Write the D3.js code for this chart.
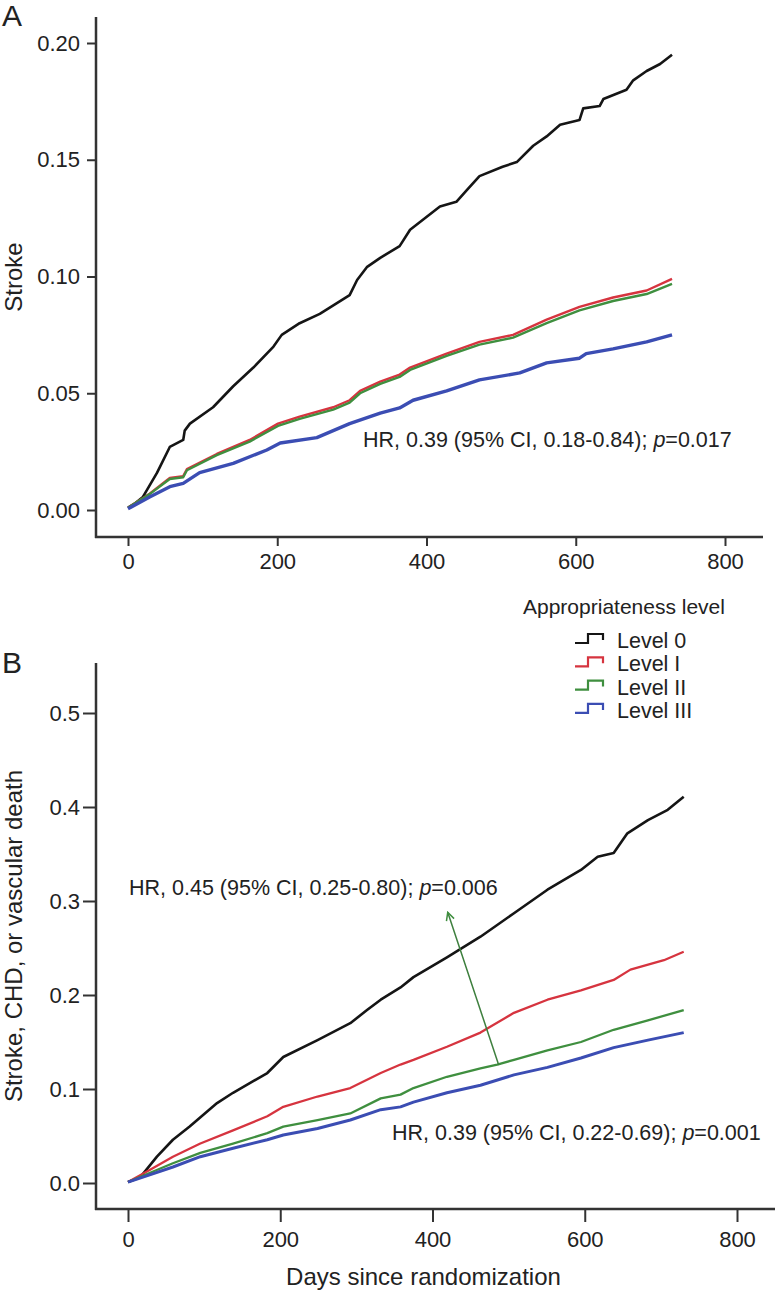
<!DOCTYPE html>
<html>
<head>
<meta charset="utf-8">
<script src="https://cdn.jsdelivr.net/npm/d3@7"></script>
<style>
  body { margin: 0; background: #fff; }
  svg text { font-family: "Liberation Sans", Arial, sans-serif; fill: #222; }
</style>
</head>
<body>
<script>
// panel A - stroke
const daysA0 = [0, 10, 20, 39, 56, 74, 76, 83, 114, 141, 168, 195, 206, 230, 257, 297, 307, 320, 338, 364, 378, 418, 440, 454, 471, 502, 521, 543, 561, 579, 605, 610, 632, 637, 668, 677, 695, 713, 729];
const strokeA0 = [0.001, 0.003, 0.0056, 0.016, 0.027, 0.030, 0.034, 0.037, 0.044, 0.053, 0.061, 0.070, 0.075, 0.080, 0.084, 0.092, 0.0985, 0.104, 0.108, 0.113, 0.120, 0.130, 0.132, 0.137, 0.143, 0.147, 0.149, 0.156, 0.160, 0.165, 0.167, 0.172, 0.173, 0.176, 0.180, 0.184, 0.188, 0.191, 0.195];
const daysA12 = [0, 29, 56, 74, 79, 119, 163, 201, 230, 275, 297, 311, 338, 364, 378, 427, 471, 516, 561, 605, 650, 695, 729];
const strokeA1 = [0.001, 0.007, 0.0137, 0.0145, 0.0175, 0.024, 0.030, 0.037, 0.040, 0.044, 0.047, 0.051, 0.055, 0.058, 0.061, 0.067, 0.072, 0.075, 0.0815, 0.087, 0.091, 0.094, 0.099];
const strokeA2 = [0.001, 0.0068, 0.0133, 0.014, 0.017, 0.0235, 0.0293, 0.036, 0.039, 0.043, 0.046, 0.050, 0.054, 0.057, 0.060, 0.066, 0.0708, 0.0738, 0.080, 0.0855, 0.0895, 0.0925, 0.0968];
const daysA3 = [0, 29, 56, 74, 96, 141, 186, 204, 253, 297, 338, 364, 382, 427, 471, 525, 561, 605, 614, 650, 695, 729];
const strokeA3 = [0.0005, 0.0056, 0.010, 0.0114, 0.016, 0.020, 0.0257, 0.0287, 0.031, 0.037, 0.0415, 0.0437, 0.047, 0.051, 0.0557, 0.0587, 0.063, 0.065, 0.067, 0.069, 0.072, 0.075];

// panel B - stroke, CHD, or vascular death
const daysB0 = [0, 16, 38, 59, 81, 117, 138, 183, 204, 249, 292, 314, 332, 358, 375, 419, 463, 507, 551, 595, 617, 638, 656, 683, 709, 730];
const compB0 = [0.001, 0.006, 0.028, 0.046, 0.060, 0.085, 0.096, 0.117, 0.134, 0.152, 0.170, 0.184, 0.195, 0.208, 0.219, 0.240, 0.262, 0.287, 0.312, 0.333, 0.347, 0.351, 0.372, 0.386, 0.397, 0.411];
const daysB1 = [0, 29, 59, 95, 138, 183, 204, 249, 292, 332, 358, 375, 419, 463, 507, 551, 595, 638, 660, 704, 730];
const compB1 = [0.001, 0.014, 0.028, 0.042, 0.056, 0.071, 0.081, 0.092, 0.101, 0.117, 0.126, 0.131, 0.145, 0.160, 0.181, 0.195, 0.205, 0.216, 0.227, 0.237, 0.246];
const daysB2 = [0, 59, 95, 138, 183, 204, 249, 292, 332, 358, 375, 419, 463, 485, 507, 551, 595, 638, 683, 730];
const compB2 = [0.001, 0.021, 0.032, 0.042, 0.053, 0.060, 0.067, 0.074, 0.090, 0.094, 0.101, 0.113, 0.122, 0.126, 0.131, 0.141, 0.150, 0.163, 0.173, 0.184];
const daysB3 = [0, 59, 95, 138, 183, 204, 249, 292, 332, 358, 375, 419, 463, 507, 551, 595, 638, 683, 730];
const compB3 = [0.001, 0.017, 0.028, 0.037, 0.046, 0.051, 0.058, 0.067, 0.078, 0.081, 0.086, 0.096, 0.104, 0.115, 0.123, 0.133, 0.144, 0.152, 0.160];

const levels = ["Level 0", "Level I", "Level II", "Level III"];
const colors = ["#151515", "#d6343f", "#3f8f3f", "#3b4db3"];
const xTicks = [0, 200, 400, 600, 800];
const yTicksA = [0, 0.05, 0.10, 0.15, 0.20];
const yTicksB = [0, 0.1, 0.2, 0.3, 0.4, 0.5];

const w = 778, h = 1292;
const svg = d3.select("body").append("svg").attr("width", w).attr("height", h);

const zip = (xs, ys) => xs.map((d, i) => [d, ys[i]]);

function panel(cfg) {
  const g = svg.append("g");
  const x = d3.scaleLinear().domain([0, 800]).range(cfg.xr);
  const y = d3.scaleLinear().domain(cfg.yd).range(cfg.yr);

  // y axis
  const ay = g.append("g").attr("transform", `translate(96,0)`)
    .call(d3.axisLeft(y).tickValues(cfg.yTicks).tickFormat(cfg.fmt).tickSize(cfg.tick).tickPadding(cfg.padY).tickSizeOuter(0));
  ay.select(".domain").remove();
  ay.selectAll("line").attr("stroke", "#333").attr("stroke-width", 2);
  ay.selectAll("text").style("font-size", "22px").attr("fill", "#222");
  g.append("line").attr("x1", 96).attr("x2", 96).attr("y1", cfg.top).attr("y2", cfg.base + 1)
    .attr("stroke", "#333").attr("stroke-width", 2.5);

  // x axis
  const ax = g.append("g").attr("transform", `translate(0,${cfg.base})`)
    .call(d3.axisBottom(x).tickValues(xTicks).tickSize(cfg.tick).tickPadding(cfg.padX).tickSizeOuter(0));
  ax.select(".domain").remove();
  ax.selectAll("line").attr("stroke", "#333").attr("stroke-width", 2);
  ax.selectAll("text").style("font-size", "22px").attr("fill", "#222");
  g.append("line").attr("x1", 95).attr("x2", cfg.right).attr("y1", cfg.base).attr("y2", cfg.base)
    .attr("stroke", "#333").attr("stroke-width", 2.5);

  // curves
  const line = d3.line().x(d => x(d[0])).y(d => y(d[1])).curve(d3.curveLinear);
  cfg.series.forEach((s, i) => {
    g.append("path").datum(s).attr("d", line).attr("fill", "none")
      .attr("stroke", colors[i]).attr("stroke-width", cfg.widths[i]).attr("stroke-linejoin", "round");
  });

  // panel letter + y title
  g.append("text").attr("x", 2).attr("y", cfg.letterY).text(cfg.letter).style("font-size", "30px");
  g.append("text").attr("transform", `translate(22,${(cfg.top + cfg.base) / 2}) rotate(-90)`)
    .attr("text-anchor", "middle").style("font-size", "24px").text(cfg.ytitle);
  return { x, y, g };
}

function hrText(g, xp, yp, txt, p) {
  const t = g.append("text").attr("x", xp).attr("y", yp).style("font-size", "21.5px");
  t.append("tspan").text(txt);
  t.append("tspan").style("font-style", "italic").text("p");
  t.append("tspan").text("=" + p);
}

const A = panel({
  xr: [128, 725], yd: [0, 0.2], yr: [510, 43], top: 17, base: 537, right: 763,
  tick: 9, padY: 7, padX: 7, yTicks: yTicksA, fmt: d3.format(".2f"),
  series: [zip(daysA0, strokeA0), zip(daysA12, strokeA1), zip(daysA12, strokeA2), zip(daysA3, strokeA3)],
  widths: [2.6, 2.4, 2.4, 3.4], letter: "A", letterY: 26, ytitle: "Stroke"
});
hrText(A.g, 363, 447, "HR, 0.39 (95% CI, 0.18-0.84); ", "0.017");

const B = panel({
  xr: [128, 737], yd: [0, 0.5], yr: [1183, 713], top: 663, base: 1209, right: 775,
  tick: 13, padY: 3, padX: 9, yTicks: yTicksB, fmt: d3.format(".1f"),
  series: [zip(daysB0, compB0), zip(daysB1, compB1), zip(daysB2, compB2), zip(daysB3, compB3)],
  widths: [2.6, 2.3, 2.3, 3], letter: "B", letterY: 673, ytitle: "Stroke, CHD, or vascular death"
});
hrText(B.g, 129, 895, "HR, 0.45 (95% CI, 0.25-0.80); ", "0.006");
hrText(B.g, 392, 1140, "HR, 0.39 (95% CI, 0.22-0.69); ", "0.001");

// arrow from level II curve up to the upper label
svg.append("defs").append("marker").attr("id", "head").attr("viewBox", "0 0 10 10")
  .attr("refX", 9).attr("refY", 5).attr("markerWidth", 10).attr("markerHeight", 10)
  .attr("markerUnits", "userSpaceOnUse").attr("orient", "auto")
  .append("path").attr("d", "M1,1 L9,5 L1,9").attr("fill", "none").attr("stroke", colors[2]).attr("stroke-width", 1.5);
B.g.append("line").attr("x1", B.x(487)).attr("y1", B.y(0.1255)).attr("x2", B.x(420)).attr("y2", B.y(0.288))
  .attr("stroke", "#3d7f3d").attr("stroke-width", 1.5).attr("marker-end", "url(#head)");

// x title
svg.append("text").attr("x", (128 + 737) / 2 - 9).attr("y", 1285).attr("text-anchor", "middle")
  .style("font-size", "24px").text("Days since randomization");

// legend
const leg = svg.append("g");
leg.append("text").attr("x", 523).attr("y", 614).style("font-size", "21px").text("Appropriateness level");
levels.forEach((name, i) => {
  const b = 648 + i * 23.3;
  leg.append("path").attr("d", `M575,${b - 5} H588 V${b - 14} H603 V${b - 8}`)
    .attr("fill", "none").attr("stroke", colors[i]).attr("stroke-width", 2.2);
  leg.append("text").attr("x", 617).attr("y", b).style("font-size", "21.5px").text(name);
});
</script>
</body>
</html>
